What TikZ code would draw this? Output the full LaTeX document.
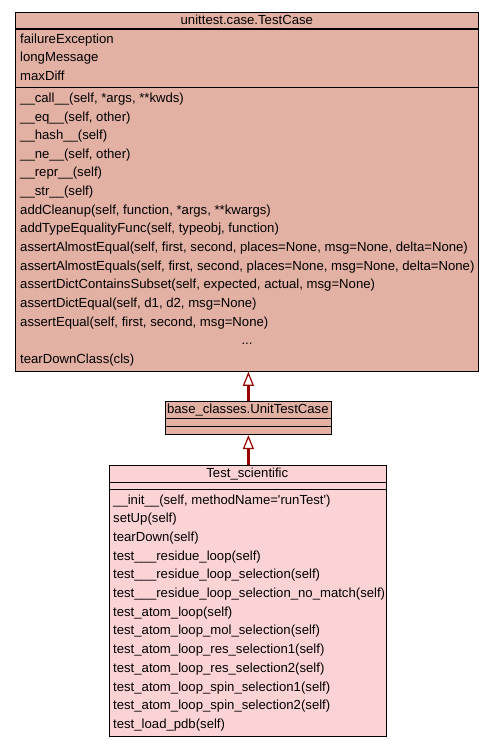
\documentclass[tikz,border=0pt]{standalone}
\usepackage{fontspec}
\setmainfont{Liberation Sans}
\usepackage{tikz}
\usetikzlibrary{arrows.meta, positioning, calc}

\begin{document}
\begin{tikzpicture}[x=1pt, y=-1pt,
  classbox/.style={draw=black, line width=1.1pt, inner sep=0pt, anchor=north west},
  member/.style={anchor=west, inner sep=0pt, text height=9.4pt, text depth=2.9pt, font=\fontsize{13.15}{15}\selectfont},
  classname/.style={member, anchor=center},
  inherit/.style={draw=arrowRed, line width=2.4pt, -{Triangle[open, length=14pt, width=11pt, fill=white, line width=1.2pt]}}]
% --- UML: CLASSE BASE, CLASSE INTERMEDIARIA E CLASSE DE TESTE ---
\definecolor{baseFill}{HTML}{E3B1A3}
\definecolor{testFill}{HTML}{FCD3D5}
\definecolor{arrowRed}{HTML}{990000}

\useasboundingbox (0,0) rectangle (493,747);

% LAYER 1: unittest.case.TestCase
\node[classbox, fill=baseFill, minimum width=463pt, minimum height=359pt] (testcase) at (15.3,11.7) {};
\node[classname] (testcaseName) at (246.8,21) {unittest.case.TestCase};
\draw[line width=1.1pt] (testcase.west |- 0,29) -- (testcase.east |- 0,29);
\draw[line width=1.1pt] (testcase.west |- 0,87.3) -- (testcase.east |- 0,87.3);
\foreach \txt [count=\i from 0] in {failureException, longMessage, maxDiff}
  \node[member] (attr\i) at (20,{39.8+18.6*\i}) {\txt};
\foreach \txt [count=\i from 0] in {
  {\_\_call\_\_(self, *args, **kwds)},
  {\_\_eq\_\_(self, other)},
  {\_\_hash\_\_(self)},
  {\_\_ne\_\_(self, other)},
  {\_\_repr\_\_(self)},
  {\_\_str\_\_(self)},
  {addCleanup(self, function, *args, **kwargs)},
  {addTypeEqualityFunc(self, typeobj, function)},
  {assertAlmostEqual(self, first, second, places=None, msg=None, delta=None)},
  {assertAlmostEquals(self, first, second, places=None, msg=None, delta=None)},
  {assertDictContainsSubset(self, expected, actual, msg=None)},
  {assertDictEqual(self, d1, d2, msg=None)},
  {assertEqual(self, first, second, msg=None)}}
  \node[member] (base\i) at (20,{99.1+18.65*\i}) {\txt};
\node[classname] (baseDots) at (247,341.5) {...};
\node[member] (baseLast) at (20,360.2) {tearDownClass(cls)};

% LAYER 2: base_classes.UnitTestCase
\node[classbox, fill=baseFill, minimum width=165.7pt, minimum height=33pt] (unitcase) at (165,401) {};
\node[classname] (unitcaseName) at (247.85,410.6) {base\_classes.UnitTestCase};
\draw[line width=1.1pt] (unitcase.west |- 0,418.7) -- (unitcase.east |- 0,418.7);
\draw[line width=1.1pt] (unitcase.west |- 0,426.7) -- (unitcase.east |- 0,426.7);

% LAYER 3: Test_scientific
\node[classbox, fill=testFill, minimum width=277.3pt, minimum height=270.7pt] (scientific) at (108.7,465) {};
\node[classname] (scientificName) at (247.3,474.3) {Test\_scientific};
\draw[line width=1.1pt] (scientific.west |- 0,482.3) -- (scientific.east |- 0,482.3);
\draw[line width=1.1pt] (scientific.west |- 0,489.7) -- (scientific.east |- 0,489.7);
\foreach \txt [count=\i from 0] in {
  {\_\_init\_\_(self, methodName=\textquotesingle runTest\textquotesingle)},
  {setUp(self)},
  {tearDown(self)},
  {test\_\_\_residue\_loop(self)},
  {test\_\_\_residue\_loop\_selection(self)},
  {test\_\_\_residue\_loop\_selection\_no\_match(self)},
  {test\_atom\_loop(self)},
  {test\_atom\_loop\_mol\_selection(self)},
  {test\_atom\_loop\_res\_selection1(self)},
  {test\_atom\_loop\_res\_selection2(self)},
  {test\_atom\_loop\_spin\_selection1(self)},
  {test\_atom\_loop\_spin\_selection2(self)},
  {test\_load\_pdb(self)}}
  \node[member] (test\i) at (113,{500.8+18.7*\i}) {\txt};

% LAYER 4: Heranca
\draw[inherit] (unitcase.north) -- (unitcase.north |- testcase.south);
\draw[inherit] (unitcase.south |- scientific.north) -- (unitcase.south);
\end{tikzpicture}
\end{document}
